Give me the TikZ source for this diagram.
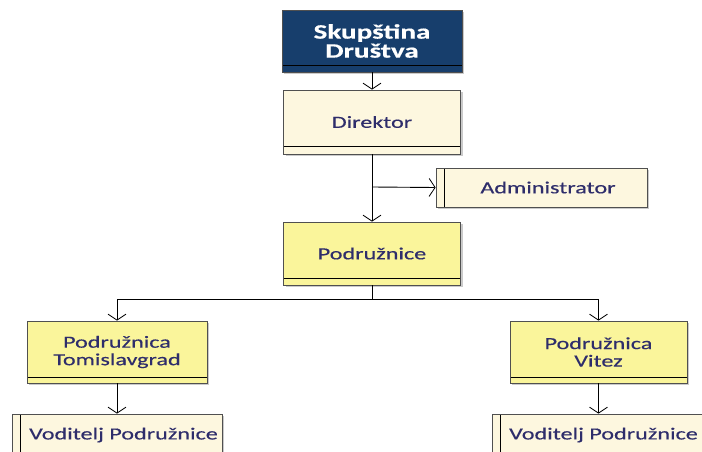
\documentclass[tikz,border=0pt]{standalone}
\usepackage{fontspec}
\setmainfont[FakeStretch=1.42,FakeBold=0.4]{Carlito}
\usetikzlibrary{arrows.meta,shadows}
\definecolor{navy}{HTML}{173E6C}
\definecolor{cream}{HTML}{FDF7DF}
\definecolor{yel}{HTML}{FAF59B}
\definecolor{txt}{HTML}{2E2D6B}
\definecolor{bord}{HTML}{505050}
\tikzset{
  box/.style={draw=bord, line width=0.8pt, inner sep=0pt, align=center, text=txt,
    font=\fontsize{17}{17.5}\selectfont,
    drop shadow={shadow xshift=2pt, shadow yshift=-2pt, fill=black!35, opacity=0.6}},
  band/.style={path picture={\draw[black, line width=0.8pt]
     ([yshift=#1]path picture bounding box.south west) -- ([yshift=#1]path picture bounding box.south east);}},
  leftbar/.style={path picture={\draw[black, line width=0.8pt]
     ([xshift=#1]path picture bounding box.south west) -- ([xshift=#1]path picture bounding box.north west);}},
  conn/.style={draw=black, line width=0.9pt, -{Straight Barb[length=6pt,width=18pt,line width=0.8pt]}},
  plain/.style={draw=black, line width=0.9pt},
}
\begin{document}
\begin{tikzpicture}[x=1pt,y=-1pt]
\useasboundingbox (0,0) rectangle (702,452);
\clip (0,0) rectangle (702,452);
\node[box, fill=navy, text=white, font=\fontsize{20.5}{19}\selectfont\bfseries, minimum width=180pt, minimum height=62pt, band=7pt] (skup) at (372,41) {Skupština\\Društva};
\node[box, fill=cream, minimum width=177pt, minimum height=64pt, band=8pt] (dir) at (372,122) {Direktor};
\node[box, fill=cream, minimum width=211pt, minimum height=39pt, leftbar=8pt] (adm) at (541.5,187.5) {\hspace*{13pt}Administrator};
\node[box, fill=yel, minimum width=177pt, minimum height=63pt, band=7pt] (pod) at (372,253.5) {Podružnice};
\node[box, fill=yel, minimum width=180pt, minimum height=62pt, band=6pt] (tom) at (117,352) {Podružnica\\Tomislavgrad};
\node[box, fill=yel, minimum width=177pt, minimum height=62pt, band=6pt] (vit) at (598.5,352) {Podružnica\\Vitez};
\node[box, fill=cream, minimum width=210pt, minimum height=42pt, leftbar=8pt] (vod1) at (117,435) {\hspace*{13pt}Voditelj Podružnice};
\node[box, fill=cream, minimum width=210pt, minimum height=42pt, leftbar=8pt] (vod2) at (597,435) {\hspace*{13pt}Voditelj Podružnice};
\coordinate (br) at (372,187);
\coordinate (hz) at (372,299);
\draw[conn] (skup.south) -- (dir.north);
\draw[conn] (dir.south) -- (pod.north);
\draw[conn] (br) -- (adm.west);
\draw[plain] (pod.south) -- (hz);
\draw[conn] (hz) -| (tom.north);
\draw[conn] (hz) -| (vit.north);
\draw[conn] (tom.south) -- (tom.south |- vod1.north);
\draw[conn] (vit.south) -- (vit.south |- vod2.north);
\end{tikzpicture}
\end{document}
